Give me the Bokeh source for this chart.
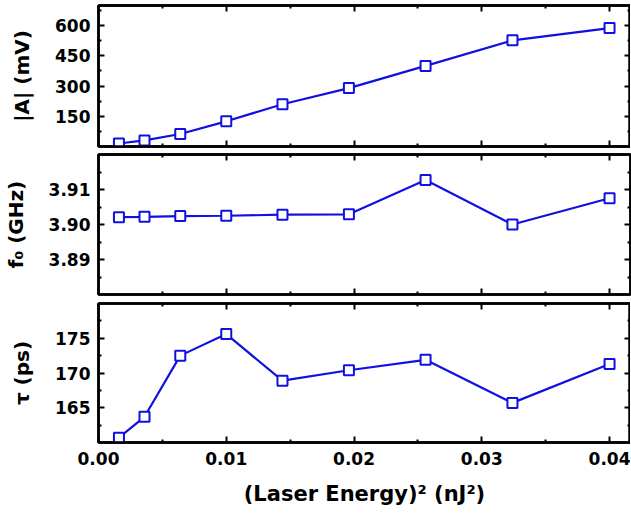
from bokeh.plotting import figure
from bokeh.layouts import column
from bokeh.models import (LinearAxis, FixedTicker, Range1d, NumeralTickFormatter,
                          CustomLabelingPolicy)
from bokeh.embed import file_html
from bokeh.resources import INLINE

# ---- data ----
x_energy2 = [0.0016, 0.0036, 0.0064, 0.0100, 0.0144, 0.0196, 0.0256, 0.0324, 0.0400]
amp_mV = [15, 30, 62, 125, 210, 290, 400, 527, 588]
f0_GHz = [3.9021, 3.9022, 3.9024, 3.9025, 3.9028, 3.9029, 3.9127, 3.9000, 3.9075]
tau_ps = [160.7, 163.7, 172.5, 175.6, 168.9, 170.4, 171.9, 165.7, 171.3]

x_major = [0.00, 0.01, 0.02, 0.03, 0.04]
x_minor = [0.005, 0.015, 0.025, 0.035]

a_major = [150, 300, 450, 600]
a_minor = [75, 225, 375, 525, 675]
f_major = [3.89, 3.90, 3.91]
f_minor = [3.885, 3.895, 3.905, 3.915]
t_major = [165, 170, 175]
t_minor = [162.5, 167.5, 172.5, 177.5]

FONT = "DejaVu Sans"
BLUE = "#1010e0"
FRAME_W = 532
X_RANGE = (0.0, 0.04164)

NO_LABELS = "for (const i of [...indices]) indices.unset(i)\nreturn indices"


def style_axis(ax, major, minor, show_labels, fmt=None):
    ax.ticker = FixedTicker(ticks=major, minor_ticks=minor)
    ax.major_tick_in = 6
    ax.major_tick_out = 0
    ax.minor_tick_in = 3
    ax.minor_tick_out = 0
    ax.major_tick_line_width = 2
    ax.minor_tick_line_width = 2
    ax.major_tick_line_color = "black"
    ax.minor_tick_line_color = "black"
    ax.axis_line_width = 2.5
    ax.axis_line_color = "black"
    ax.major_label_text_font = FONT
    ax.major_label_text_font_style = "bold"
    ax.major_label_text_color = "black"
    ax.axis_label_text_font = FONT
    ax.axis_label_text_font_style = "bold"
    ax.axis_label_text_color = "black"
    ax.axis_label_text_font_size = "20px"
    if fmt is not None:
        ax.formatter = NumeralTickFormatter(format=fmt)
    if show_labels:
        ax.major_label_text_font_size = "17px"
        ax.major_label_standoff = 8
    else:
        ax.major_label_text_font_size = "0px"
        ax.major_label_policy = CustomLabelingPolicy(code=NO_LABELS)
        ax.major_label_standoff = 0
        ax.axis_label_standoff = 0


def make_panel(yvals, yr, ymajor, yminor, ylabel, yfmt, frame_h, top, bottom, show_x):
    p = figure(frame_width=FRAME_W, frame_height=frame_h,
               output_backend="svg", toolbar_location=None,
               x_range=Range1d(*X_RANGE), y_range=Range1d(*yr),
               x_axis_location=None, y_axis_location=None,
               min_border_left=97, min_border_right=1,
               min_border_top=top, min_border_bottom=bottom)
    p.grid.visible = False
    p.outline_line_color = "black"
    p.outline_line_width = 2.5
    p.background_fill_color = "white"
    p.border_fill_color = "white"

    left = LinearAxis(axis_label=ylabel)
    style_axis(left, ymajor, yminor, True, yfmt)
    left.axis_label_standoff = 18
    p.add_layout(left, "left")

    right = LinearAxis()
    style_axis(right, ymajor, yminor, False)
    p.add_layout(right, "right")

    below = LinearAxis()
    style_axis(below, x_major, x_minor, show_x, "0.00")
    if show_x:
        below.major_label_standoff = 9
        below.axis_label = "(Laser Energy)\u00b2 (nJ\u00b2)"
        below.axis_label_text_font_size = "21px"
        below.axis_label_standoff = 14
    p.add_layout(below, "below")

    above = LinearAxis()
    style_axis(above, x_major, x_minor, False)
    p.add_layout(above, "above")

    p.line(x_energy2, yvals, line_color=BLUE, line_width=2.2)
    p.scatter(x_energy2, yvals, marker="square", size=10, line_color=BLUE,
              line_width=2, fill_color="white")
    return p


p1 = make_panel(amp_mV, (0, 700), a_major, a_minor, "|A| (mV)", "0", 141, 5, 4, False)
p2 = make_panel(f0_GHz, (3.88, 3.92), f_major, f_minor, "f\u2080 (GHz)", "0.00", 140, 4, 5, False)
p3 = make_panel(tau_ps, (160, 180), t_major, t_minor, "\u03c4 (ps)", "0", 139, 4, 70, True)

layout = column(p1, p2, p3, spacing=0)
open("out.html", "w").write(file_html(layout, INLINE))
